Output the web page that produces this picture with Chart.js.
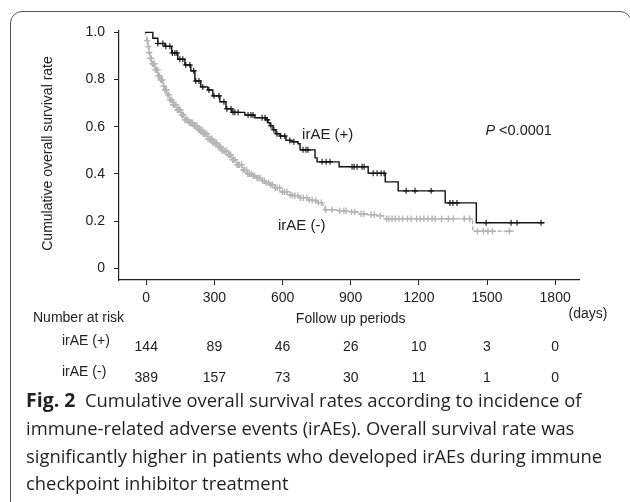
<!DOCTYPE html>
<html>
<head>
<meta charset="utf-8">
<script src="https://cdn.jsdelivr.net/npm/chart.js@4.4.1/dist/chart.umd.min.js"></script>
<style>
  html, body { margin: 0; padding: 0; background: #fff; }
  #wrap { position: relative; width: 630px; height: 502px; overflow: hidden; }
  #frame { position: absolute; left: 10px; top: 11px; width: 620px; height: 540px;
           border: 1px solid #555; border-radius: 12px; }
  #km { position: absolute; left: 0; top: 0; }
  #caption { position: absolute; left: 26px; top: 386px; white-space: nowrap;
             font-family: "Open Sans", sans-serif; font-size: 18.4px; line-height: 27.8px; color: #231f20; }
  #caption b { font-size: 19.5px; }
</style>
</head>
<body>
<div id="wrap">
  <div id="frame"></div>
  <canvas id="km" width="630" height="502"></canvas>
  <div id="caption"><b>Fig. 2</b>&nbsp; Cumulative overall survival rates according to incidence of<br>immune-related adverse events (irAEs). Overall survival rate was<br>significantly higher in patients who developed irAEs during immune<br>checkpoint inhibitor treatment</div>
</div>
<script>
(function() {

  // irAE (+) : event times (days) and survival after each step
  const plusTimes = [-5, 29, 51, 82, 112, 139, 170, 196, 214, 240, 271, 293, 324, 351, 377, 434, 478,
    527, 536, 545, 558, 571, 589, 615, 637, 668, 677, 743, 752, 849, 977, 1052, 1109, 1316, 1453, 1753];
  const plusSurv = [1.0, 0.975, 0.953, 0.941, 0.913, 0.886, 0.862, 0.837, 0.794, 0.769, 0.756, 0.731, 0.706,
    0.676, 0.661, 0.650, 0.638, 0.629, 0.617, 0.604, 0.587, 0.570, 0.561, 0.542, 0.536, 0.528, 0.502,
    0.468, 0.451, 0.430, 0.403, 0.366, 0.328, 0.277, 0.193, 0.193];
  const plusCensor = [51, 73, 86, 104, 115, 126, 135, 148, 161, 174, 192, 209, 218, 232, 249, 276, 298,
    320, 342, 355, 373, 382, 390, 404, 448, 461, 470, 510, 523, 533, 549, 562, 575, 592, 610, 632, 650,
    690, 703, 712, 774, 792, 809, 906, 915, 928, 950, 959, 999, 1016, 1034, 1047, 1144, 1183, 1254,
    1337, 1350, 1368, 1496, 1606, 1632, 1738];

  // irAE (-)
  const minusTimes = [-8, -3, 2, 7, 12, 18, 24, 37, 51, 60, 73, 82, 95, 104, 117, 134, 152, 170, 187,
    205, 227, 249, 271, 293, 311, 333, 355, 377, 399, 421, 443, 465, 487, 509, 527, 545, 567, 590, 620,
    646, 677, 708, 735, 756, 774, 787, 840, 884, 933, 973, 1014, 1045, 1437, 1617];
  const minusSurv = [1.0, 0.985, 0.965, 0.94, 0.915, 0.89, 0.867, 0.841, 0.816, 0.799, 0.773, 0.756,
    0.735, 0.714, 0.693, 0.672, 0.650, 0.629, 0.617, 0.604, 0.587, 0.570, 0.549, 0.532, 0.515, 0.498,
    0.481, 0.460, 0.439, 0.417, 0.400, 0.392, 0.383, 0.371, 0.362, 0.354, 0.341, 0.324, 0.311, 0.307,
    0.299, 0.290, 0.286, 0.278, 0.269, 0.248, 0.244, 0.239, 0.231, 0.227, 0.222, 0.210, 0.157, 0.157];
  const minusCensor = [4, 9, 13, 18, 22, 27, 32, 36, 40, 45, 50, 53, 58, 64, 68, 71, 77, 82, 86, 89, 95,
    100, 104, 108, 113, 119, 122, 127, 131, 137, 141, 145, 150, 156, 160, 164, 170, 175, 179, 183, 189,
    195, 199, 204, 210, 214, 218, 224, 230, 234, 239, 245, 251, 255, 261, 267, 272, 276, 283, 289, 293,
    300, 306, 310, 317, 324, 328, 335, 342, 346, 353, 361, 366, 372, 380, 385, 391, 399, 405, 411, 420,
    426, 432, 441, 447, 454, 463, 470, 477, 487, 494, 501, 512, 520, 528, 539, 548, 556, 568, 577, 587,
    599, 608, 619, 633, 642, 654, 668, 679, 691, 706, 717, 730, 746, 758, 771, 790, 818, 852, 870, 880,
    904, 918, 946, 958, 990, 1004, 1030, 1058, 1068, 1082, 1096, 1112, 1128, 1150, 1166, 1190, 1206,
    1222, 1240, 1258, 1272, 1300, 1330, 1352, 1400, 1424, 1458, 1484, 1504, 1524, 1598];

  const xTicks = [0, 300, 600, 900, 1200, 1500, 1800];
  const yTicks = [0, 0.2, 0.4, 0.6, 0.8, 1.0];
  const riskTimes = [0, 300, 600, 900, 1200, 1500, 1800];
  const riskPlus = [144, 89, 46, 26, 10, 3, 0];
  const riskMinus = [389, 157, 73, 30, 11, 1, 0];

  function survAt(times, surv, t) {
    let s = surv[0];
    for (let i = 0; i < times.length; i++) {
      if (times[i] <= t) s = surv[i];
    }
    return s;
  }

  const ink = '#222';
  const grey = '#b5b5b5';
  const font = '"Liberation Sans", Arial, sans-serif';

  Chart.defaults.font.family = font;
  Chart.defaults.font.size = 14;
  Chart.defaults.color = ink;

  const extraText = {
    id: 'extraText',
    afterDraw(chart) {
      const ctx = chart.ctx;
      const x = chart.scales.x, y = chart.scales.y, area = chart.chartArea;
      ctx.save();
      ctx.fillStyle = ink;
      ctx.font = '14px ' + font;
      ctx.textBaseline = 'middle';

      ctx.save();
      ctx.translate(48, (area.top + area.bottom) / 2 - 2);
      ctx.rotate(-Math.PI / 2);
      ctx.textAlign = 'center';
      ctx.fillText('Cumulative overall survival rate', 0, 0);
      ctx.restore();

      ctx.font = '15px ' + font;
      ctx.textAlign = 'left';
      ctx.fillText('irAE (+)', x.getPixelForValue(686), y.getPixelForValue(0.566));
      ctx.fillText('irAE (-)', x.getPixelForValue(580), y.getPixelForValue(0.18));

      const px = x.getPixelForValue(1493), py = y.getPixelForValue(0.583);
      ctx.font = 'italic 14.5px ' + font;
      ctx.fillText('P', px, py);
      const pw = ctx.measureText('P ').width;
      ctx.font = '14.5px ' + font;
      ctx.fillText('<0.0001', px + pw, py);

      ctx.font = '14px ' + font;
      ctx.textAlign = 'center';
      ctx.fillText('Follow up periods', x.getPixelForValue(900), 319);
      ctx.fillText('(days)', 588, 314);
      ctx.textAlign = 'left';
      ctx.fillText('Number at risk', 33, 318);
      ctx.fillText('irAE (+)', 62, 341);
      ctx.fillText('irAE (-)', 62, 372);
      ctx.textAlign = 'center';
      riskTimes.forEach((t, i) => {
        const cx = x.getPixelForValue(t);
        ctx.fillText(String(riskPlus[i]), cx, 347);
        ctx.fillText(String(riskMinus[i]), cx, 378);
      });
      ctx.restore();
    }
  };

  const data = {
    datasets: [
      {
        label: 'irAE (+) censored',
        data: plusCensor.map(t => ({x: t, y: survAt(plusTimes, plusSurv, t)})),
        showLine: false,
        pointStyle: 'cross',
        pointRadius: 3,
        pointBorderWidth: 1.1,
        borderColor: '#111',
        backgroundColor: '#111'
      },
      {
        label: 'irAE (+)',
        data: plusTimes.map((t, i) => ({x: t, y: plusSurv[i]})),
        showLine: true,
        stepped: true,
        borderColor: '#111',
        borderWidth: 1.4,
        pointRadius: 0,
        fill: false
      },
      {
        label: 'irAE (-) censored',
        data: minusCensor.map(t => ({x: t, y: survAt(minusTimes, minusSurv, t)})),
        showLine: false,
        pointStyle: 'cross',
        pointRadius: 3.2,
        pointBorderWidth: 1.4,
        borderColor: grey,
        backgroundColor: grey
      },
      {
        label: 'irAE (-)',
        data: minusTimes.map((t, i) => ({x: t, y: minusSurv[i]})),
        showLine: true,
        stepped: true,
        borderColor: grey,
        borderWidth: 1.5,
        borderDash: [4, 2],
        pointRadius: 0,
        fill: false
      }
    ]
  };

  const config = {
    type: 'scatter',
    data: data,
    options: {
      responsive: false,
      animation: false,
      devicePixelRatio: 1,
      layout: { autoPadding: false, padding: { left: 0, right: 51, top: 31, bottom: 192 } },
      plugins: { legend: { display: false }, tooltip: { enabled: false } },
      scales: {
        x: {
          type: 'linear',
          min: -120,
          max: 1905,
          afterBuildTicks: s => { s.ticks = xTicks.map(v => ({value: v})); },
          afterFit: s => { s.height = 30; },
          grid: { drawOnChartArea: false, drawTicks: true, tickLength: 5, color: ink },
          border: { display: true, color: ink, width: 1.2 },
          ticks: {
            color: ink, font: { size: 14 }, padding: 5, maxRotation: 0, autoSkip: false,
            callback: v => String(v)
          }
        },
        y: {
          type: 'linear',
          min: -0.05,
          max: 1.006,
          afterBuildTicks: s => { s.ticks = yTicks.map(v => ({value: v})); },
          afterFit: s => { s.width = 119; },
          grid: { drawOnChartArea: false, drawTicks: true, tickLength: 5, color: ink },
          border: { display: true, color: ink, width: 1.2 },
          ticks: {
            color: ink, font: { size: 14 }, padding: 9,
            callback: v => v === 0 ? '0' : v.toFixed(1)
          }
        }
      }
    },
    plugins: [extraText]
  };

  new Chart(document.getElementById('km'), config);

})();
</script>
</body>
</html>
